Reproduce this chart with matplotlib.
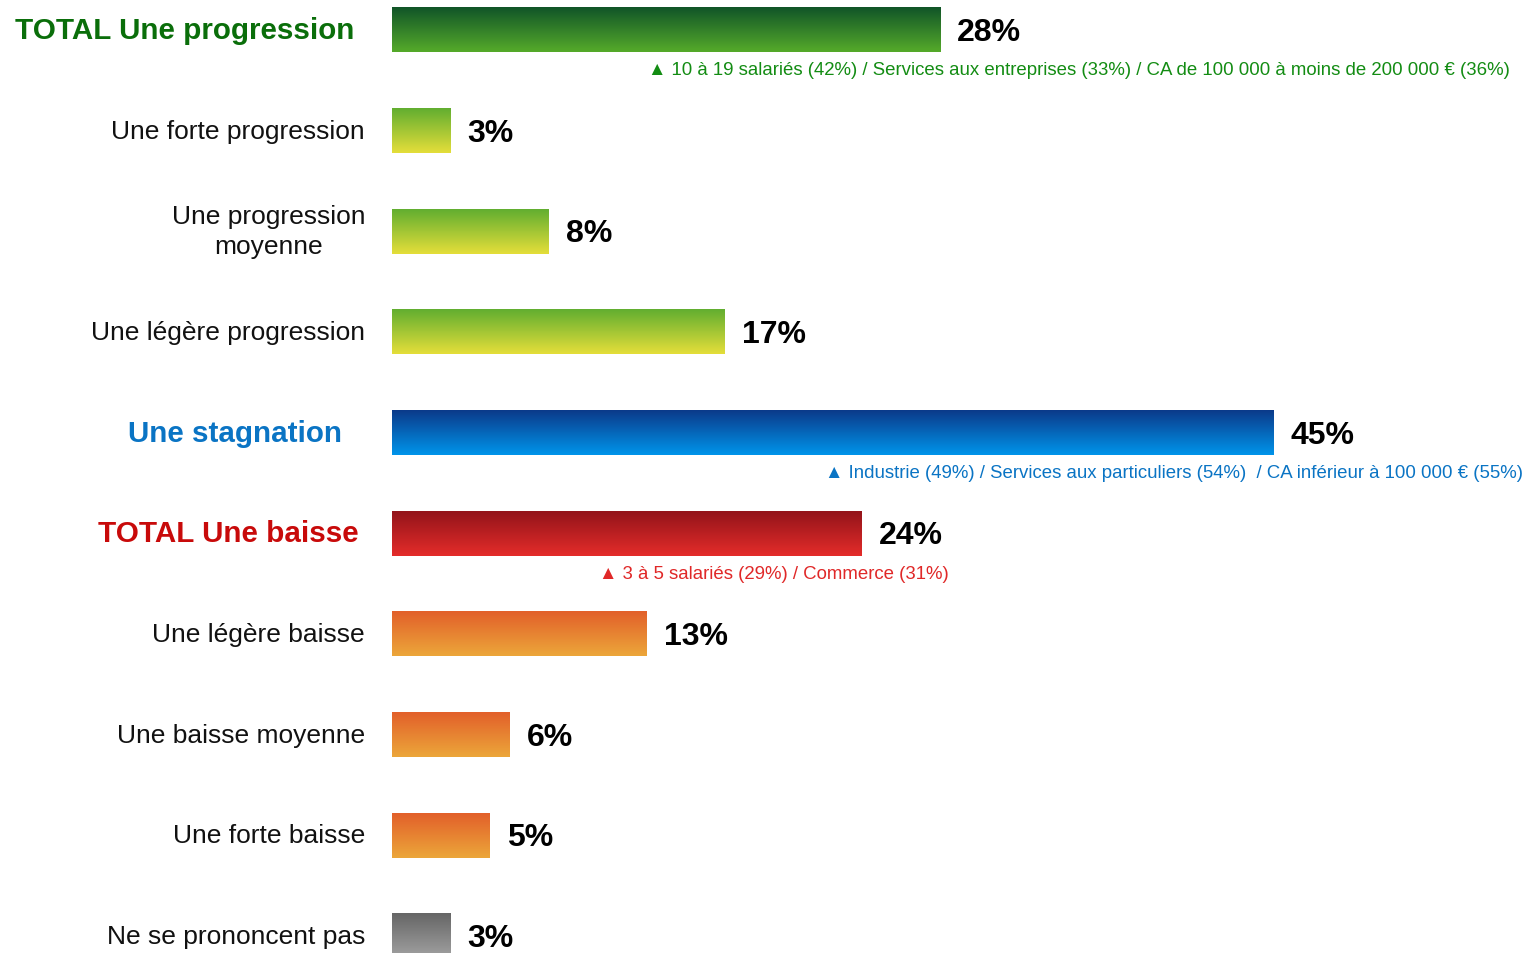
import numpy as np
import matplotlib.pyplot as plt
from matplotlib.colors import LinearSegmentedColormap

plt.rcParams['font.family'] = ['Liberation Sans', 'DejaVu Sans']

categories = ['TOTAL Une progression', 'Une forte progression', 'Une progression\nmoyenne',
              'Une légère progression', 'Une stagnation', 'TOTAL Une baisse',
              'Une légère baisse', 'Une baisse moyenne', 'Une forte baisse',
              'Ne se prononcent pas']
values = [28, 3, 8, 17, 45, 24, 13, 6, 5, 3]
notes = {
    0: '▲ 10 à 19 salariés (42%) / Services aux entreprises (33%) / CA de 100 000 à moins de 200 000 € (36%)',
    4: '▲ Industrie (49%) / Services aux particuliers (54%)  / CA inférieur à 100 000 € (55%)',
    5: '▲ 3 à 5 salariés (29%) / Commerce (31%)',
}

# gradient (top, bottom) per bar
grad = {
    'green': ('#115528', '#55aa2a'),
    'lime': ('#62ae30', '#e4de3a'),
    'blue': ('#0b3a8a', '#0094ea'),
    'red': ('#93141a', '#e42c2a'),
    'orange': ('#e2602a', '#eca63a'),
    'grey': ('#666666', '#a2a2a2'),
}
bar_style = ['green', 'lime', 'lime', 'lime', 'blue', 'red', 'orange', 'orange', 'orange', 'grey']
label_color = {0: '#0a6e0a', 4: '#0a74c4', 5: '#c80a0a'}
label_right = {0: 354, 4: 342, 5: 359}
note_color = {0: '#138c13', 4: '#0a74c4', 5: '#e02828'}
note_x = {0: 1510, 4: 1523, 5: 949}

W, H = 1526, 954
fig = plt.figure(figsize=(W / 100, H / 100), dpi=100)
x0 = 392
ppu = 19.58
row = 100.67
ax = fig.add_axes([x0 / W, 0, (W - x0) / W, 1])
ylim = (9 + (H - 937) / row, -31 / row)

bh = 0.447
for i, (v, st) in enumerate(zip(values, bar_style)):
    cmap = LinearSegmentedColormap.from_list(st, list(grad[st]))
    g = np.linspace(0, 1, 64).reshape(-1, 1)
    ax.imshow(g, cmap=cmap, aspect='auto', extent=[0, v, i + bh / 2, i - bh / 2],
              interpolation='bicubic', zorder=2)
    ax.text(v + 17 / ppu, i + 0.02, f'{v}%', fontsize=23, fontweight='bold', va='center',
            ha='left', color='black')
    if i in label_color:
        ax.text((label_right[i] - x0) / ppu, i, categories[i], fontsize=21.3,
                fontweight='bold', color=label_color[i], ha='right', va='center',
                clip_on=False)
    else:
        ax.text(-27 / ppu, i, categories[i], fontsize=19, color='#111111', ha='right',
                va='center', multialignment='center', linespacing=1.3, clip_on=False)
    if i in notes:
        ax.text((note_x[i] - x0) / ppu, i + 0.395, notes[i], fontsize=13.4,
                color=note_color[i], ha='right', va='center')

ax.set_xlim(0, (W - x0) / ppu)
ax.set_ylim(*ylim)
ax.axis('off')
fig.savefig('out.png', dpi=100)
